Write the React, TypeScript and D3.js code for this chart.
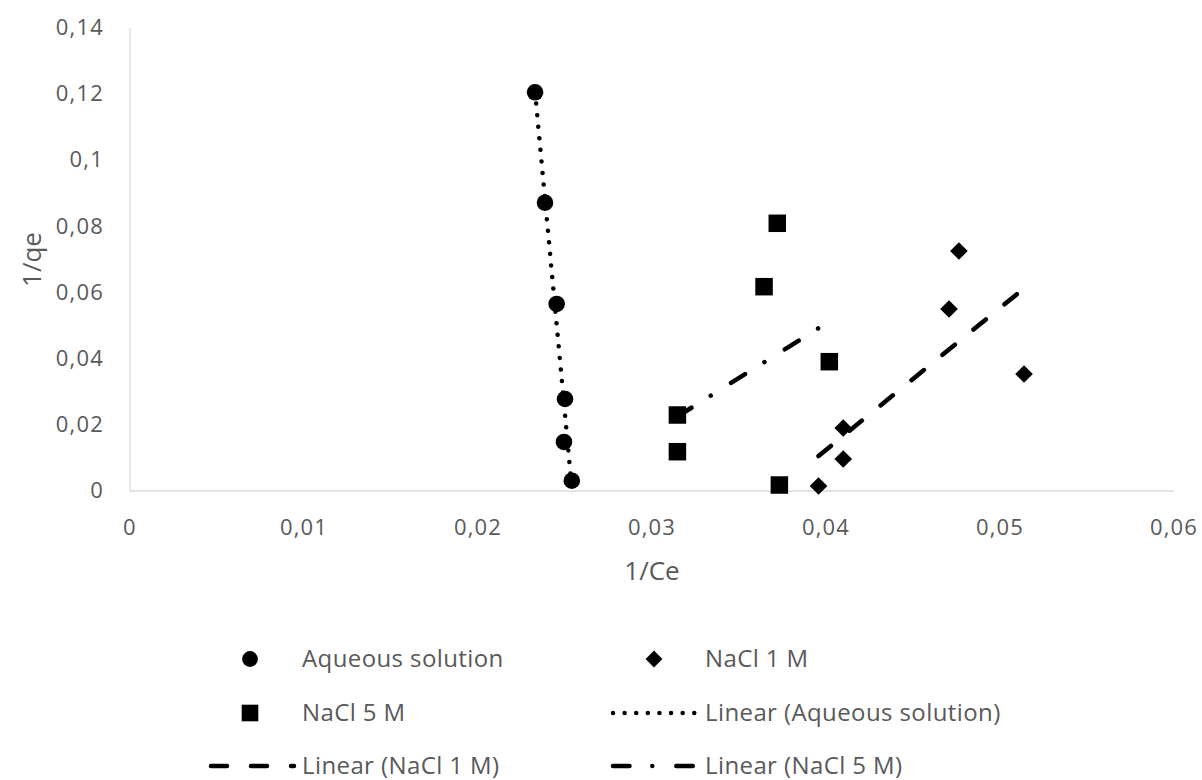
import React, { useEffect, useRef } from 'react';
import * as d3 from 'd3';

// 1/Ce vs 1/qe
const aqueousX = [0.02328, 0.02385, 0.02452, 0.0250, 0.02494, 0.02539];
const aqueousY = [0.12056, 0.08718, 0.05655, 0.02782, 0.01482, 0.00311];

const nacl1X = [0.03957, 0.04099, 0.04099, 0.04707, 0.04764, 0.05138];
const nacl1Y = [0.00151, 0.01905, 0.00968, 0.05503, 0.07257, 0.03538];

const nacl5X = [0.0372, 0.03644, 0.04019, 0.03146, 0.03146, 0.03732];
const nacl5Y = [0.08095, 0.06178, 0.0391, 0.02298, 0.01188, 0.00181];

const xTicks = [0, 0.01, 0.02, 0.03, 0.04, 0.05, 0.06];
const yTicks = [0, 0.02, 0.04, 0.06, 0.08, 0.1, 0.12, 0.14];

const legendLabels = [
  'Aqueous solution',
  'NaCl 1 M',
  'NaCl 5 M',
  'Linear (Aqueous solution)',
  'Linear (NaCl 1 M)',
  'Linear (NaCl 5 M)',
];

const FONT = '"Open Sans", sans-serif';
const GREY = '#595959';
const AXIS = '#d9d9d9';

const DOT = '0.01 11.6';
const DASH = '16 24';
const DASHDOT = '16.5 22.8 0.01 24';

// least squares fit, drawn from min x to max x like Excel does
const fit = (xs: number[], ys: number[]) => {
  const mx = d3.mean(xs)!;
  const my = d3.mean(ys)!;
  let sxy = 0;
  let sxx = 0;
  xs.forEach((x, i) => {
    sxy += (x - mx) * (ys[i] - my);
    sxx += (x - mx) * (x - mx);
  });
  const b = sxy / sxx;
  const a = my - b * mx;
  const [x0, x1] = d3.extent(xs) as [number, number];
  return [
    [x0, a + b * x0],
    [x1, a + b * x1],
  ];
};

const Chart = () => {
  const ref = useRef<SVGSVGElement>(null);

  useEffect(() => {
    const svg = d3.select(ref.current);
    svg.selectAll('*').remove();

    const x = d3.scaleLinear().domain([0, 0.06]).range([130, 1174]);
    const y = d3.scaleLinear().domain([0, 0.14]).range([491, 28]);

    const fmt = d3
      .formatLocale({ decimal: ',', thousands: '.', grouping: [3], currency: ['', ''] })
      .format('~g');

    // axes (no ticks, no grid)
    svg.append('line')
      .attr('x1', x(0)).attr('x2', x(0))
      .attr('y1', y(0.14)).attr('y2', y(0))
      .attr('stroke', AXIS).attr('stroke-width', 1.3);
    svg.append('line')
      .attr('x1', x(0)).attr('x2', x(0.06))
      .attr('y1', y(0)).attr('y2', y(0))
      .attr('stroke', AXIS).attr('stroke-width', 1.3);

    svg.selectAll('text.yt')
      .data(yTicks)
      .enter()
      .append('text')
      .attr('class', 'yt')
      .attr('x', 104)
      .attr('y', (d) => y(d) - 0.5)
      .attr('dy', '0.35em')
      .attr('text-anchor', 'end')
      .style('font-family', FONT)
      .style('font-size', '22px')
      .style('letter-spacing', '1.2px')
      .style('fill', GREY)
      .text((d) => fmt(d));

    svg.selectAll('text.xt')
      .data(xTicks)
      .enter()
      .append('text')
      .attr('class', 'xt')
      .attr('x', (d) => x(d))
      .attr('y', 527.5)
      .attr('dy', '0.35em')
      .attr('text-anchor', 'middle')
      .style('font-family', FONT)
      .style('font-size', '22px')
      .style('letter-spacing', '1.2px')
      .style('fill', GREY)
      .text((d) => fmt(d));

    svg.append('text')
      .attr('transform', `translate(32,${(y(0) + y(0.14)) / 2}) rotate(-90)`)
      .attr('dy', '0.35em')
      .attr('text-anchor', 'middle')
      .style('font-family', FONT)
      .style('font-size', '26px')
      .style('fill', GREY)
      .text('1/qe');

    svg.append('text')
      .attr('x', (x(0) + x(0.06)) / 2)
      .attr('y', 571)
      .attr('dy', '0.35em')
      .attr('text-anchor', 'middle')
      .style('font-family', FONT)
      .style('font-size', '26px')
      .style('fill', GREY)
      .text('1/Ce');

    const line = d3.line<number[]>().x((d) => x(d[0])).y((d) => y(d[1]));

    const trend = (xs: number[], ys: number[], dash: string) =>
      svg.append('path')
        .attr('d', line(fit(xs, ys)))
        .attr('fill', 'none')
        .attr('stroke', '#000')
        .attr('stroke-width', 4.5)
        .attr('stroke-linecap', 'round')
        .attr('stroke-dasharray', dash);

    const circle = d3.symbol().type(d3.symbolCircle).size(Math.PI * 8.3 * 8.3);
    const square = d3.symbol().type(d3.symbolSquare).size(17.5 * 17.5);
    const diamond = d3.symbol().type(d3.symbolSquare).size(12.5 * 12.5);

    svg.selectAll('path.aq')
      .data(aqueousX)
      .enter()
      .append('path')
      .attr('class', 'aq')
      .attr('d', circle)
      .attr('transform', (d, i) => `translate(${x(d)},${y(aqueousY[i])})`)
      .attr('fill', '#000');

    svg.selectAll('path.n5')
      .data(nacl5X)
      .enter()
      .append('path')
      .attr('class', 'n5')
      .attr('d', square)
      .attr('transform', (d, i) => `translate(${x(d)},${y(nacl5Y[i])})`)
      .attr('fill', '#000');

    svg.selectAll('path.n1')
      .data(nacl1X)
      .enter()
      .append('path')
      .attr('class', 'n1')
      .attr('d', diamond)
      .attr('transform', (d, i) => `translate(${x(d)},${y(nacl1Y[i])}) rotate(45)`)
      .attr('fill', '#000');

    trend(aqueousX, aqueousY, DOT);
    trend(nacl1X, nacl1Y, DASH);
    trend(nacl5X, nacl5Y, DASHDOT);

    // legend
    const rows = [659, 713, 766];
    const cols = [{ c: 250, l0: 211, l1: 294, t: 302 }, { c: 654, l0: 613, l1: 699, t: 705 }];
    const items = [
      { sym: circle, rot: 0, dash: null },
      { sym: diamond, rot: 45, dash: null },
      { sym: square, rot: 0, dash: null },
      { sym: null, rot: 0, dash: DOT },
      { sym: null, rot: 0, dash: DASH },
      { sym: null, rot: 0, dash: DASHDOT },
    ];
    const lg = svg.append('g');
    items.forEach((it, i) => {
      const col = cols[i % 2];
      const ry = rows[Math.floor(i / 2)];
      if (it.sym) {
        lg.append('path')
          .attr('d', it.sym)
          .attr('transform', `translate(${col.c},${ry}) scale(0.95) rotate(${it.rot})`)
          .attr('fill', '#000');
      } else {
        lg.append('line')
          .attr('x1', col.l0).attr('x2', col.l1)
          .attr('y1', ry).attr('y2', ry)
          .attr('stroke', '#000')
          .attr('stroke-width', 4.5)
          .attr('stroke-linecap', 'round')
          .attr('stroke-dasharray', it.dash);
      }
      lg.append('text')
        .attr('x', col.t)
        .attr('y', ry)
        .attr('dy', '0.35em')
        .style('font-family', FONT)
        .style('font-size', '24px')
        .style('letter-spacing', '0.4px')
        .style('fill', GREY)
        .text(legendLabels[i]);
    });
  }, []);

  return <svg ref={ref} width={1202} height={780} style={{ display: 'block' }} />;
};

export default function App() {
  return (
    <div style={{ position: 'absolute', left: 0, top: 0, background: '#fff' }}>
      <Chart />
    </div>
  );
}
